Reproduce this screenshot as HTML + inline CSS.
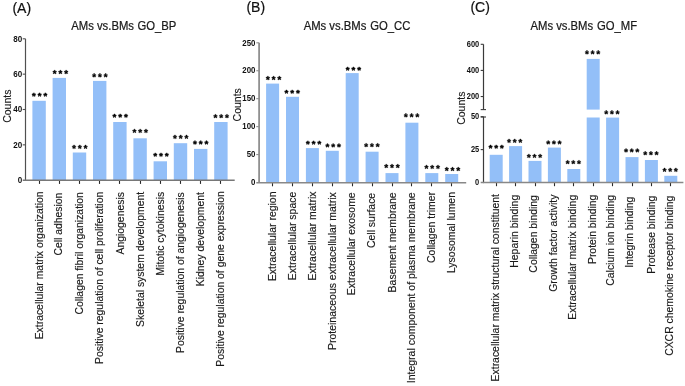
<!DOCTYPE html>
<html><head><meta charset="utf-8"><style>
html,body{margin:0;padding:0;background:#fff;}
body{width:685px;height:386px;overflow:hidden;}
svg{display:block;will-change:transform;}
text{font-family:"Liberation Sans", sans-serif;fill:#1a1a1a;}
.tk{font-size:8.3px;font-weight:bold;fill:#111;}
.sp{fill:#000;stroke:#000;stroke-width:85px;stroke-linejoin:round;}
.lb{font-size:10.4px;fill:#1a1a1a;stroke:#1a1a1a;stroke-width:0.15px;}
.ti{font-size:11.3px;fill:#1a1a1a;stroke:#1a1a1a;stroke-width:0.2px;}
.pl{font-size:14px;fill:#111;stroke:#111;stroke-width:0.2px;}
.ct{font-size:10.5px;fill:#1a1a1a;stroke:#1a1a1a;stroke-width:0.15px;}
</style></head><body>
<svg width="685" height="386" viewBox="0 0 685 386">
<rect width="685" height="386" fill="#fff"/>
<line x1="25.5" y1="180.80" x2="25.5" y2="38.8" stroke="#505050" stroke-width="1.2"/>
<text transform="translate(22.20,182.95) scale(0.97,1)" text-anchor="end" class="tk">0</text>
<line x1="22.7" y1="144.85" x2="25.5" y2="144.85" stroke="#505050" stroke-width="1.1"/>
<text transform="translate(22.20,147.60) scale(0.97,1)" text-anchor="end" class="tk">20</text>
<line x1="22.7" y1="109.5" x2="25.5" y2="109.5" stroke="#505050" stroke-width="1.1"/>
<text transform="translate(22.20,112.25) scale(0.97,1)" text-anchor="end" class="tk">40</text>
<line x1="22.7" y1="74.15" x2="25.5" y2="74.15" stroke="#505050" stroke-width="1.1"/>
<text transform="translate(22.20,76.90) scale(0.97,1)" text-anchor="end" class="tk">60</text>
<line x1="22.7" y1="38.800" x2="25.5" y2="38.800" stroke="#505050" stroke-width="1.1"/>
<text transform="translate(22.20,41.55) scale(0.97,1)" text-anchor="end" class="tk">80</text>
<rect x="32.4" y="100.8" width="13.4" height="79.500" fill="#93bff8"/>
<path transform="translate(33.85,94.70) scale(0.00474)" d="M92,-107L326,-211L394,-14L144,47L330,260L146,381L0,129L-148,381L-334,258L-144,47L-394,-14L-326,-211L-88,-107L-106,-381L110,-381Z" class="sp"/>
<path transform="translate(39.60,94.70) scale(0.00474)" d="M92,-107L326,-211L394,-14L144,47L330,260L146,381L0,129L-148,381L-334,258L-144,47L-394,-14L-326,-211L-88,-107L-106,-381L110,-381Z" class="sp"/>
<path transform="translate(45.35,94.70) scale(0.00474)" d="M92,-107L326,-211L394,-14L144,47L330,260L146,381L0,129L-148,381L-334,258L-144,47L-394,-14L-326,-211L-88,-107L-106,-381L110,-381Z" class="sp"/>
<line x1="39.5" y1="180.3" x2="39.5" y2="183.9" stroke="#2a2a2a" stroke-width="1.1"/>
<text transform="translate(42.55,191.50) scale(1,1.0) rotate(-90)" text-anchor="end" class="lb" style="font-size:10.400px">Extracellular matrix organization</text>
<rect x="52.600" y="77.9" width="13.4" height="102.4" fill="#93bff8"/>
<path transform="translate(54.65,72.10) scale(0.00474)" d="M92,-107L326,-211L394,-14L144,47L330,260L146,381L0,129L-148,381L-334,258L-144,47L-394,-14L-326,-211L-88,-107L-106,-381L110,-381Z" class="sp"/>
<path transform="translate(60.40,72.10) scale(0.00474)" d="M92,-107L326,-211L394,-14L144,47L330,260L146,381L0,129L-148,381L-334,258L-144,47L-394,-14L-326,-211L-88,-107L-106,-381L110,-381Z" class="sp"/>
<path transform="translate(66.15,72.10) scale(0.00474)" d="M92,-107L326,-211L394,-14L144,47L330,260L146,381L0,129L-148,381L-334,258L-144,47L-394,-14L-326,-211L-88,-107L-106,-381L110,-381Z" class="sp"/>
<line x1="59.5" y1="180.3" x2="59.5" y2="183.9" stroke="#2a2a2a" stroke-width="1.1"/>
<text transform="translate(62.40,192.60) scale(1,1.0) rotate(-90)" text-anchor="end" class="lb" style="font-size:10.400px">Cell adhesion</text>
<rect x="72.8" y="152.5" width="13.4" height="27.800" fill="#93bff8"/>
<path transform="translate(74.05,146.90) scale(0.00474)" d="M92,-107L326,-211L394,-14L144,47L330,260L146,381L0,129L-148,381L-334,258L-144,47L-394,-14L-326,-211L-88,-107L-106,-381L110,-381Z" class="sp"/>
<path transform="translate(79.80,146.90) scale(0.00474)" d="M92,-107L326,-211L394,-14L144,47L330,260L146,381L0,129L-148,381L-334,258L-144,47L-394,-14L-326,-211L-88,-107L-106,-381L110,-381Z" class="sp"/>
<path transform="translate(85.55,146.90) scale(0.00474)" d="M92,-107L326,-211L394,-14L144,47L330,260L146,381L0,129L-148,381L-334,258L-144,47L-394,-14L-326,-211L-88,-107L-106,-381L110,-381Z" class="sp"/>
<line x1="79.5" y1="180.3" x2="79.5" y2="183.9" stroke="#2a2a2a" stroke-width="1.1"/>
<text transform="translate(82.90,192.10) scale(1,1.0) rotate(-90)" text-anchor="end" class="lb" style="font-size:10.400px">Collagen fibril organization</text>
<rect x="93.0" y="80.9" width="13.4" height="99.4" fill="#93bff8"/>
<path transform="translate(94.15,75.40) scale(0.00474)" d="M92,-107L326,-211L394,-14L144,47L330,260L146,381L0,129L-148,381L-334,258L-144,47L-394,-14L-326,-211L-88,-107L-106,-381L110,-381Z" class="sp"/>
<path transform="translate(99.90,75.40) scale(0.00474)" d="M92,-107L326,-211L394,-14L144,47L330,260L146,381L0,129L-148,381L-334,258L-144,47L-394,-14L-326,-211L-88,-107L-106,-381L110,-381Z" class="sp"/>
<path transform="translate(105.65,75.40) scale(0.00474)" d="M92,-107L326,-211L394,-14L144,47L330,260L146,381L0,129L-148,381L-334,258L-144,47L-394,-14L-326,-211L-88,-107L-106,-381L110,-381Z" class="sp"/>
<line x1="99.5" y1="180.3" x2="99.5" y2="183.9" stroke="#2a2a2a" stroke-width="1.1"/>
<text transform="translate(103.25,191.80) scale(1,1.0) rotate(-90)" text-anchor="end" class="lb" style="font-size:10.400px">Positive regulation of cell proliferation</text>
<rect x="113.200" y="122" width="13.4" height="58.300" fill="#93bff8"/>
<path transform="translate(114.45,115.80) scale(0.00474)" d="M92,-107L326,-211L394,-14L144,47L330,260L146,381L0,129L-148,381L-334,258L-144,47L-394,-14L-326,-211L-88,-107L-106,-381L110,-381Z" class="sp"/>
<path transform="translate(120.20,115.80) scale(0.00474)" d="M92,-107L326,-211L394,-14L144,47L330,260L146,381L0,129L-148,381L-334,258L-144,47L-394,-14L-326,-211L-88,-107L-106,-381L110,-381Z" class="sp"/>
<path transform="translate(125.95,115.80) scale(0.00474)" d="M92,-107L326,-211L394,-14L144,47L330,260L146,381L0,129L-148,381L-334,258L-144,47L-394,-14L-326,-211L-88,-107L-106,-381L110,-381Z" class="sp"/>
<line x1="119.5" y1="180.3" x2="119.5" y2="183.9" stroke="#2a2a2a" stroke-width="1.1"/>
<text transform="translate(124.10,192.10) scale(1,1.0) rotate(-90)" text-anchor="end" class="lb" style="font-size:10.400px">Angiogenesis</text>
<rect x="133.4" y="138.3" width="13.4" height="42.0" fill="#93bff8"/>
<path transform="translate(134.45,131.00) scale(0.00474)" d="M92,-107L326,-211L394,-14L144,47L330,260L146,381L0,129L-148,381L-334,258L-144,47L-394,-14L-326,-211L-88,-107L-106,-381L110,-381Z" class="sp"/>
<path transform="translate(140.20,131.00) scale(0.00474)" d="M92,-107L326,-211L394,-14L144,47L330,260L146,381L0,129L-148,381L-334,258L-144,47L-394,-14L-326,-211L-88,-107L-106,-381L110,-381Z" class="sp"/>
<path transform="translate(145.95,131.00) scale(0.00474)" d="M92,-107L326,-211L394,-14L144,47L330,260L146,381L0,129L-148,381L-334,258L-144,47L-394,-14L-326,-211L-88,-107L-106,-381L110,-381Z" class="sp"/>
<line x1="140.5" y1="180.3" x2="140.5" y2="183.9" stroke="#2a2a2a" stroke-width="1.1"/>
<text transform="translate(143.70,191.80) scale(1,1.0) rotate(-90)" text-anchor="end" class="lb" style="font-size:10.400px">Skeletal system development</text>
<rect x="153.6" y="161.3" width="13.4" height="19.0" fill="#93bff8"/>
<path transform="translate(155.25,154.80) scale(0.00474)" d="M92,-107L326,-211L394,-14L144,47L330,260L146,381L0,129L-148,381L-334,258L-144,47L-394,-14L-326,-211L-88,-107L-106,-381L110,-381Z" class="sp"/>
<path transform="translate(161.00,154.80) scale(0.00474)" d="M92,-107L326,-211L394,-14L144,47L330,260L146,381L0,129L-148,381L-334,258L-144,47L-394,-14L-326,-211L-88,-107L-106,-381L110,-381Z" class="sp"/>
<path transform="translate(166.75,154.80) scale(0.00474)" d="M92,-107L326,-211L394,-14L144,47L330,260L146,381L0,129L-148,381L-334,258L-144,47L-394,-14L-326,-211L-88,-107L-106,-381L110,-381Z" class="sp"/>
<line x1="160.5" y1="180.3" x2="160.5" y2="183.9" stroke="#2a2a2a" stroke-width="1.1"/>
<text transform="translate(163.90,191.80) scale(1,1.0) rotate(-90)" text-anchor="end" class="lb" style="font-size:10.400px">Mitotic cytokinesis</text>
<rect x="173.8" y="143.2" width="13.4" height="37.100" fill="#93bff8"/>
<path transform="translate(174.95,136.90) scale(0.00474)" d="M92,-107L326,-211L394,-14L144,47L330,260L146,381L0,129L-148,381L-334,258L-144,47L-394,-14L-326,-211L-88,-107L-106,-381L110,-381Z" class="sp"/>
<path transform="translate(180.70,136.90) scale(0.00474)" d="M92,-107L326,-211L394,-14L144,47L330,260L146,381L0,129L-148,381L-334,258L-144,47L-394,-14L-326,-211L-88,-107L-106,-381L110,-381Z" class="sp"/>
<path transform="translate(186.45,136.90) scale(0.00474)" d="M92,-107L326,-211L394,-14L144,47L330,260L146,381L0,129L-148,381L-334,258L-144,47L-394,-14L-326,-211L-88,-107L-106,-381L110,-381Z" class="sp"/>
<line x1="180.5" y1="180.3" x2="180.5" y2="183.9" stroke="#2a2a2a" stroke-width="1.1"/>
<text transform="translate(183.90,192.30) scale(1,1.0) rotate(-90)" text-anchor="end" class="lb" style="font-size:10.400px">Positive regulation of angiogenesis</text>
<rect x="194.0" y="148.9" width="13.4" height="31.400" fill="#93bff8"/>
<path transform="translate(194.95,142.60) scale(0.00474)" d="M92,-107L326,-211L394,-14L144,47L330,260L146,381L0,129L-148,381L-334,258L-144,47L-394,-14L-326,-211L-88,-107L-106,-381L110,-381Z" class="sp"/>
<path transform="translate(200.70,142.60) scale(0.00474)" d="M92,-107L326,-211L394,-14L144,47L330,260L146,381L0,129L-148,381L-334,258L-144,47L-394,-14L-326,-211L-88,-107L-106,-381L110,-381Z" class="sp"/>
<path transform="translate(206.45,142.60) scale(0.00474)" d="M92,-107L326,-211L394,-14L144,47L330,260L146,381L0,129L-148,381L-334,258L-144,47L-394,-14L-326,-211L-88,-107L-106,-381L110,-381Z" class="sp"/>
<line x1="200.5" y1="180.3" x2="200.5" y2="183.9" stroke="#2a2a2a" stroke-width="1.1"/>
<text transform="translate(203.50,192.10) scale(1,1.0) rotate(-90)" text-anchor="end" class="lb" style="font-size:10.400px">Kidney development</text>
<rect x="214.2" y="122" width="13.4" height="58.300" fill="#93bff8"/>
<path transform="translate(215.45,116.20) scale(0.00474)" d="M92,-107L326,-211L394,-14L144,47L330,260L146,381L0,129L-148,381L-334,258L-144,47L-394,-14L-326,-211L-88,-107L-106,-381L110,-381Z" class="sp"/>
<path transform="translate(221.20,116.20) scale(0.00474)" d="M92,-107L326,-211L394,-14L144,47L330,260L146,381L0,129L-148,381L-334,258L-144,47L-394,-14L-326,-211L-88,-107L-106,-381L110,-381Z" class="sp"/>
<path transform="translate(226.95,116.20) scale(0.00474)" d="M92,-107L326,-211L394,-14L144,47L330,260L146,381L0,129L-148,381L-334,258L-144,47L-394,-14L-326,-211L-88,-107L-106,-381L110,-381Z" class="sp"/>
<line x1="220.5" y1="180.3" x2="220.5" y2="183.9" stroke="#2a2a2a" stroke-width="1.1"/>
<text transform="translate(224.10,191.10) scale(1,1.0) rotate(-90)" text-anchor="end" class="lb" style="font-size:10.400px">Positive regulation of gene expression</text>
<line x1="22.7" y1="180.3" x2="234.7" y2="180.3" stroke="#777" stroke-width="1.4"/>
<text transform="translate(71.25,29.9) scale(1,1.08)" class="ti">AMs vs.BMs</text>
<text transform="translate(137.4,29.9) scale(1,1.08)" class="ti">GO_BP</text>
<text x="12.45" y="12.7" class="pl">(A)</text>
<text transform="translate(11.4,106.2) rotate(-90)" text-anchor="middle" class="ct">Counts</text>
<line x1="259.1" y1="183.10" x2="259.1" y2="42.8" stroke="#909090" stroke-width="1.8"/>
<text transform="translate(255.50,185.25) scale(0.95,1)" text-anchor="end" class="tk">0</text>
<line x1="256.3" y1="154.56" x2="259.1" y2="154.56" stroke="#909090" stroke-width="1.1"/>
<text transform="translate(255.50,157.31) scale(0.95,1)" text-anchor="end" class="tk">50</text>
<line x1="256.3" y1="126.62" x2="259.1" y2="126.62" stroke="#909090" stroke-width="1.1"/>
<text transform="translate(255.50,129.37) scale(0.95,1)" text-anchor="end" class="tk">100</text>
<line x1="256.3" y1="98.68" x2="259.1" y2="98.68" stroke="#909090" stroke-width="1.1"/>
<text transform="translate(255.50,101.43) scale(0.95,1)" text-anchor="end" class="tk">150</text>
<line x1="256.3" y1="70.740" x2="259.1" y2="70.740" stroke="#909090" stroke-width="1.1"/>
<text transform="translate(255.50,73.49) scale(0.95,1)" text-anchor="end" class="tk">200</text>
<line x1="256.3" y1="42.800" x2="259.1" y2="42.800" stroke="#909090" stroke-width="1.1"/>
<text transform="translate(255.50,45.55) scale(0.95,1)" text-anchor="end" class="tk">250</text>
<rect x="266.1" y="83.6" width="13" height="99.1" fill="#93bff8"/>
<path transform="translate(267.85,78.10) scale(0.00474)" d="M92,-107L326,-211L394,-14L144,47L330,260L146,381L0,129L-148,381L-334,258L-144,47L-394,-14L-326,-211L-88,-107L-106,-381L110,-381Z" class="sp"/>
<path transform="translate(273.60,78.10) scale(0.00474)" d="M92,-107L326,-211L394,-14L144,47L330,260L146,381L0,129L-148,381L-334,258L-144,47L-394,-14L-326,-211L-88,-107L-106,-381L110,-381Z" class="sp"/>
<path transform="translate(279.35,78.10) scale(0.00474)" d="M92,-107L326,-211L394,-14L144,47L330,260L146,381L0,129L-148,381L-334,258L-144,47L-394,-14L-326,-211L-88,-107L-106,-381L110,-381Z" class="sp"/>
<line x1="272.5" y1="182.7" x2="272.5" y2="186.300" stroke="#2a2a2a" stroke-width="1.1"/>
<text transform="translate(275.80,191.50) scale(1,1.0) rotate(-90)" text-anchor="end" class="lb" style="font-size:10.480px">Extracellular region</text>
<rect x="286.0" y="96.8" width="13" height="85.900" fill="#93bff8"/>
<path transform="translate(286.45,91.80) scale(0.00474)" d="M92,-107L326,-211L394,-14L144,47L330,260L146,381L0,129L-148,381L-334,258L-144,47L-394,-14L-326,-211L-88,-107L-106,-381L110,-381Z" class="sp"/>
<path transform="translate(292.20,91.80) scale(0.00474)" d="M92,-107L326,-211L394,-14L144,47L330,260L146,381L0,129L-148,381L-334,258L-144,47L-394,-14L-326,-211L-88,-107L-106,-381L110,-381Z" class="sp"/>
<path transform="translate(297.95,91.80) scale(0.00474)" d="M92,-107L326,-211L394,-14L144,47L330,260L146,381L0,129L-148,381L-334,258L-144,47L-394,-14L-326,-211L-88,-107L-106,-381L110,-381Z" class="sp"/>
<line x1="292.5" y1="182.7" x2="292.5" y2="186.300" stroke="#2a2a2a" stroke-width="1.1"/>
<text transform="translate(295.70,191.70) scale(1,1.0) rotate(-90)" text-anchor="end" class="lb" style="font-size:10.480px">Extracellular space</text>
<rect x="305.900" y="148.1" width="13" height="34.600" fill="#93bff8"/>
<path transform="translate(307.85,142.70) scale(0.00474)" d="M92,-107L326,-211L394,-14L144,47L330,260L146,381L0,129L-148,381L-334,258L-144,47L-394,-14L-326,-211L-88,-107L-106,-381L110,-381Z" class="sp"/>
<path transform="translate(313.60,142.70) scale(0.00474)" d="M92,-107L326,-211L394,-14L144,47L330,260L146,381L0,129L-148,381L-334,258L-144,47L-394,-14L-326,-211L-88,-107L-106,-381L110,-381Z" class="sp"/>
<path transform="translate(319.35,142.70) scale(0.00474)" d="M92,-107L326,-211L394,-14L144,47L330,260L146,381L0,129L-148,381L-334,258L-144,47L-394,-14L-326,-211L-88,-107L-106,-381L110,-381Z" class="sp"/>
<line x1="312.5" y1="182.7" x2="312.5" y2="186.300" stroke="#2a2a2a" stroke-width="1.1"/>
<text transform="translate(315.60,191.50) scale(1,1.0) rotate(-90)" text-anchor="end" class="lb" style="font-size:10.480px">Extracellular matrix</text>
<rect x="325.8" y="150.8" width="13" height="31.900" fill="#93bff8"/>
<path transform="translate(327.45,145.50) scale(0.00474)" d="M92,-107L326,-211L394,-14L144,47L330,260L146,381L0,129L-148,381L-334,258L-144,47L-394,-14L-326,-211L-88,-107L-106,-381L110,-381Z" class="sp"/>
<path transform="translate(333.20,145.50) scale(0.00474)" d="M92,-107L326,-211L394,-14L144,47L330,260L146,381L0,129L-148,381L-334,258L-144,47L-394,-14L-326,-211L-88,-107L-106,-381L110,-381Z" class="sp"/>
<path transform="translate(338.95,145.50) scale(0.00474)" d="M92,-107L326,-211L394,-14L144,47L330,260L146,381L0,129L-148,381L-334,258L-144,47L-394,-14L-326,-211L-88,-107L-106,-381L110,-381Z" class="sp"/>
<line x1="332.5" y1="182.7" x2="332.5" y2="186.300" stroke="#2a2a2a" stroke-width="1.1"/>
<text transform="translate(335.50,192.30) scale(1,1.0) rotate(-90)" text-anchor="end" class="lb" style="font-size:10.480px">Proteinaceous extracellular matrix</text>
<rect x="345.700" y="73.1" width="13" height="109.6" fill="#93bff8"/>
<path transform="translate(347.65,68.80) scale(0.00474)" d="M92,-107L326,-211L394,-14L144,47L330,260L146,381L0,129L-148,381L-334,258L-144,47L-394,-14L-326,-211L-88,-107L-106,-381L110,-381Z" class="sp"/>
<path transform="translate(353.40,68.80) scale(0.00474)" d="M92,-107L326,-211L394,-14L144,47L330,260L146,381L0,129L-148,381L-334,258L-144,47L-394,-14L-326,-211L-88,-107L-106,-381L110,-381Z" class="sp"/>
<path transform="translate(359.15,68.80) scale(0.00474)" d="M92,-107L326,-211L394,-14L144,47L330,260L146,381L0,129L-148,381L-334,258L-144,47L-394,-14L-326,-211L-88,-107L-106,-381L110,-381Z" class="sp"/>
<line x1="352.5" y1="182.7" x2="352.5" y2="186.300" stroke="#2a2a2a" stroke-width="1.1"/>
<text transform="translate(355.40,192.30) scale(1,1.0) rotate(-90)" text-anchor="end" class="lb" style="font-size:10.480px">Extracellular exosome</text>
<rect x="365.6" y="151.7" width="13" height="31.0" fill="#93bff8"/>
<path transform="translate(366.15,145.20) scale(0.00474)" d="M92,-107L326,-211L394,-14L144,47L330,260L146,381L0,129L-148,381L-334,258L-144,47L-394,-14L-326,-211L-88,-107L-106,-381L110,-381Z" class="sp"/>
<path transform="translate(371.90,145.20) scale(0.00474)" d="M92,-107L326,-211L394,-14L144,47L330,260L146,381L0,129L-148,381L-334,258L-144,47L-394,-14L-326,-211L-88,-107L-106,-381L110,-381Z" class="sp"/>
<path transform="translate(377.65,145.20) scale(0.00474)" d="M92,-107L326,-211L394,-14L144,47L330,260L146,381L0,129L-148,381L-334,258L-144,47L-394,-14L-326,-211L-88,-107L-106,-381L110,-381Z" class="sp"/>
<line x1="372.5" y1="182.7" x2="372.5" y2="186.300" stroke="#2a2a2a" stroke-width="1.1"/>
<text transform="translate(375.30,192.80) scale(1,1.0) rotate(-90)" text-anchor="end" class="lb" style="font-size:10.480px">Cell surface</text>
<rect x="385.5" y="173.1" width="13" height="9.600" fill="#93bff8"/>
<path transform="translate(386.25,166.10) scale(0.00474)" d="M92,-107L326,-211L394,-14L144,47L330,260L146,381L0,129L-148,381L-334,258L-144,47L-394,-14L-326,-211L-88,-107L-106,-381L110,-381Z" class="sp"/>
<path transform="translate(392.00,166.10) scale(0.00474)" d="M92,-107L326,-211L394,-14L144,47L330,260L146,381L0,129L-148,381L-334,258L-144,47L-394,-14L-326,-211L-88,-107L-106,-381L110,-381Z" class="sp"/>
<path transform="translate(397.75,166.10) scale(0.00474)" d="M92,-107L326,-211L394,-14L144,47L330,260L146,381L0,129L-148,381L-334,258L-144,47L-394,-14L-326,-211L-88,-107L-106,-381L110,-381Z" class="sp"/>
<line x1="392.5" y1="182.7" x2="392.5" y2="186.300" stroke="#2a2a2a" stroke-width="1.1"/>
<text transform="translate(395.65,192.30) scale(1,1.0) rotate(-90)" text-anchor="end" class="lb" style="font-size:10.480px">Basement membrane</text>
<rect x="405.4" y="122.7" width="13" height="60.000" fill="#93bff8"/>
<path transform="translate(405.85,115.40) scale(0.00474)" d="M92,-107L326,-211L394,-14L144,47L330,260L146,381L0,129L-148,381L-334,258L-144,47L-394,-14L-326,-211L-88,-107L-106,-381L110,-381Z" class="sp"/>
<path transform="translate(411.60,115.40) scale(0.00474)" d="M92,-107L326,-211L394,-14L144,47L330,260L146,381L0,129L-148,381L-334,258L-144,47L-394,-14L-326,-211L-88,-107L-106,-381L110,-381Z" class="sp"/>
<path transform="translate(417.35,115.40) scale(0.00474)" d="M92,-107L326,-211L394,-14L144,47L330,260L146,381L0,129L-148,381L-334,258L-144,47L-394,-14L-326,-211L-88,-107L-106,-381L110,-381Z" class="sp"/>
<line x1="411.5" y1="182.7" x2="411.5" y2="186.300" stroke="#2a2a2a" stroke-width="1.1"/>
<text transform="translate(415.10,192.30) scale(1,1.0) rotate(-90)" text-anchor="end" class="lb" style="font-size:10.480px">Integral component of plasma membrane</text>
<rect x="425.3" y="173.1" width="13" height="9.600" fill="#93bff8"/>
<path transform="translate(426.45,167.00) scale(0.00474)" d="M92,-107L326,-211L394,-14L144,47L330,260L146,381L0,129L-148,381L-334,258L-144,47L-394,-14L-326,-211L-88,-107L-106,-381L110,-381Z" class="sp"/>
<path transform="translate(432.20,167.00) scale(0.00474)" d="M92,-107L326,-211L394,-14L144,47L330,260L146,381L0,129L-148,381L-334,258L-144,47L-394,-14L-326,-211L-88,-107L-106,-381L110,-381Z" class="sp"/>
<path transform="translate(437.95,167.00) scale(0.00474)" d="M92,-107L326,-211L394,-14L144,47L330,260L146,381L0,129L-148,381L-334,258L-144,47L-394,-14L-326,-211L-88,-107L-106,-381L110,-381Z" class="sp"/>
<line x1="431.5" y1="182.7" x2="431.5" y2="186.300" stroke="#2a2a2a" stroke-width="1.1"/>
<text transform="translate(435.00,192.00) scale(1,1.0) rotate(-90)" text-anchor="end" class="lb" style="font-size:10.480px">Collagen trimer</text>
<rect x="445.200" y="174" width="13" height="8.700" fill="#93bff8"/>
<path transform="translate(446.75,169.10) scale(0.00474)" d="M92,-107L326,-211L394,-14L144,47L330,260L146,381L0,129L-148,381L-334,258L-144,47L-394,-14L-326,-211L-88,-107L-106,-381L110,-381Z" class="sp"/>
<path transform="translate(452.50,169.10) scale(0.00474)" d="M92,-107L326,-211L394,-14L144,47L330,260L146,381L0,129L-148,381L-334,258L-144,47L-394,-14L-326,-211L-88,-107L-106,-381L110,-381Z" class="sp"/>
<path transform="translate(458.25,169.10) scale(0.00474)" d="M92,-107L326,-211L394,-14L144,47L330,260L146,381L0,129L-148,381L-334,258L-144,47L-394,-14L-326,-211L-88,-107L-106,-381L110,-381Z" class="sp"/>
<line x1="451.5" y1="182.7" x2="451.5" y2="186.300" stroke="#2a2a2a" stroke-width="1.1"/>
<text transform="translate(454.90,192.00) scale(1,1.0) rotate(-90)" text-anchor="end" class="lb" style="font-size:10.480px">Lysosomal lumen</text>
<line x1="256.3" y1="182.7" x2="466.2" y2="182.7" stroke="#888" stroke-width="1.5"/>
<text transform="translate(303.65,30.4) scale(1,1.08)" class="ti">AMs vs.BMs</text>
<text transform="translate(370.2,30.4) scale(1,1.08)" class="ti">GO_CC</text>
<text x="246.4" y="12.1" class="pl">(B)</text>
<text transform="translate(241.3,104.8) rotate(-90)" text-anchor="middle" class="ct">Counts</text>
<line x1="483.5" y1="183.10" x2="483.5" y2="116.7" stroke="#3a3a3a" stroke-width="1.2"/>
<line x1="483.5" y1="109.60" x2="483.5" y2="44.3" stroke="#3a3a3a" stroke-width="1.2"/>
<text transform="translate(479.20,185.25) scale(0.9,1)" text-anchor="end" class="tk">0</text>
<line x1="480.7" y1="149.6" x2="483.5" y2="149.6" stroke="#3a3a3a" stroke-width="1.1"/>
<text transform="translate(479.20,152.35) scale(0.9,1)" text-anchor="end" class="tk">25</text>
<line x1="480.7" y1="116.7" x2="483.5" y2="116.7" stroke="#3a3a3a" stroke-width="1.1"/>
<text transform="translate(479.20,119.45) scale(0.9,1)" text-anchor="end" class="tk">50</text>
<line x1="480.7" y1="96.540" x2="483.5" y2="96.540" stroke="#3a3a3a" stroke-width="1.1"/>
<text transform="translate(479.20,99.29) scale(0.9,1)" text-anchor="end" class="tk">200</text>
<line x1="480.7" y1="70.420" x2="483.5" y2="70.420" stroke="#3a3a3a" stroke-width="1.1"/>
<text transform="translate(479.20,73.17) scale(0.9,1)" text-anchor="end" class="tk">400</text>
<line x1="480.7" y1="44.3" x2="483.5" y2="44.3" stroke="#3a3a3a" stroke-width="1.1"/>
<text transform="translate(479.20,47.05) scale(0.9,1)" text-anchor="end" class="tk">600</text>
<line x1="480.7" y1="109.6" x2="486.0" y2="109.6" stroke="#3a3a3a" stroke-width="1.1"/>
<line x1="480.7" y1="117.0" x2="486.0" y2="117.0" stroke="#3a3a3a" stroke-width="1.1"/>
<rect x="489.7" y="154.8" width="13" height="27.800" fill="#93bff8"/>
<path transform="translate(490.55,146.80) scale(0.00474)" d="M92,-107L326,-211L394,-14L144,47L330,260L146,381L0,129L-148,381L-334,258L-144,47L-394,-14L-326,-211L-88,-107L-106,-381L110,-381Z" class="sp"/>
<path transform="translate(496.20,146.80) scale(0.00474)" d="M92,-107L326,-211L394,-14L144,47L330,260L146,381L0,129L-148,381L-334,258L-144,47L-394,-14L-326,-211L-88,-107L-106,-381L110,-381Z" class="sp"/>
<path transform="translate(501.85,146.80) scale(0.00474)" d="M92,-107L326,-211L394,-14L144,47L330,260L146,381L0,129L-148,381L-334,258L-144,47L-394,-14L-326,-211L-88,-107L-106,-381L110,-381Z" class="sp"/>
<line x1="496.5" y1="182.6" x2="496.5" y2="186.2" stroke="#2a2a2a" stroke-width="1.1"/>
<text transform="translate(499.00,194.00) scale(1,1.0) rotate(-90)" text-anchor="end" class="lb" style="font-size:10.420px">Extracellular matrix structural constituent</text>
<rect x="509.100" y="146.1" width="13" height="36.5" fill="#93bff8"/>
<path transform="translate(509.05,140.90) scale(0.00474)" d="M92,-107L326,-211L394,-14L144,47L330,260L146,381L0,129L-148,381L-334,258L-144,47L-394,-14L-326,-211L-88,-107L-106,-381L110,-381Z" class="sp"/>
<path transform="translate(514.70,140.90) scale(0.00474)" d="M92,-107L326,-211L394,-14L144,47L330,260L146,381L0,129L-148,381L-334,258L-144,47L-394,-14L-326,-211L-88,-107L-106,-381L110,-381Z" class="sp"/>
<path transform="translate(520.35,140.90) scale(0.00474)" d="M92,-107L326,-211L394,-14L144,47L330,260L146,381L0,129L-148,381L-334,258L-144,47L-394,-14L-326,-211L-88,-107L-106,-381L110,-381Z" class="sp"/>
<line x1="515.5" y1="182.6" x2="515.5" y2="186.2" stroke="#2a2a2a" stroke-width="1.1"/>
<text transform="translate(518.30,194.80) scale(1,1.0) rotate(-90)" text-anchor="end" class="lb" style="font-size:10.420px">Heparin binding</text>
<rect x="528.5" y="160.9" width="13" height="21.700" fill="#93bff8"/>
<path transform="translate(528.85,156.00) scale(0.00474)" d="M92,-107L326,-211L394,-14L144,47L330,260L146,381L0,129L-148,381L-334,258L-144,47L-394,-14L-326,-211L-88,-107L-106,-381L110,-381Z" class="sp"/>
<path transform="translate(534.50,156.00) scale(0.00474)" d="M92,-107L326,-211L394,-14L144,47L330,260L146,381L0,129L-148,381L-334,258L-144,47L-394,-14L-326,-211L-88,-107L-106,-381L110,-381Z" class="sp"/>
<path transform="translate(540.15,156.00) scale(0.00474)" d="M92,-107L326,-211L394,-14L144,47L330,260L146,381L0,129L-148,381L-334,258L-144,47L-394,-14L-326,-211L-88,-107L-106,-381L110,-381Z" class="sp"/>
<line x1="535.5" y1="182.6" x2="535.5" y2="186.2" stroke="#2a2a2a" stroke-width="1.1"/>
<text transform="translate(537.20,195.10) scale(1,1.0) rotate(-90)" text-anchor="end" class="lb" style="font-size:10.420px">Collagen binding</text>
<rect x="547.9" y="147.6" width="13" height="35.0" fill="#93bff8"/>
<path transform="translate(548.25,142.50) scale(0.00474)" d="M92,-107L326,-211L394,-14L144,47L330,260L146,381L0,129L-148,381L-334,258L-144,47L-394,-14L-326,-211L-88,-107L-106,-381L110,-381Z" class="sp"/>
<path transform="translate(553.90,142.50) scale(0.00474)" d="M92,-107L326,-211L394,-14L144,47L330,260L146,381L0,129L-148,381L-334,258L-144,47L-394,-14L-326,-211L-88,-107L-106,-381L110,-381Z" class="sp"/>
<path transform="translate(559.55,142.50) scale(0.00474)" d="M92,-107L326,-211L394,-14L144,47L330,260L146,381L0,129L-148,381L-334,258L-144,47L-394,-14L-326,-211L-88,-107L-106,-381L110,-381Z" class="sp"/>
<line x1="554.5" y1="182.6" x2="554.5" y2="186.2" stroke="#2a2a2a" stroke-width="1.1"/>
<text transform="translate(556.80,194.60) scale(1,1.0) rotate(-90)" text-anchor="end" class="lb" style="font-size:10.420px">Growth factor activity</text>
<rect x="567.3" y="169" width="13" height="13.600" fill="#93bff8"/>
<path transform="translate(567.65,162.20) scale(0.00474)" d="M92,-107L326,-211L394,-14L144,47L330,260L146,381L0,129L-148,381L-334,258L-144,47L-394,-14L-326,-211L-88,-107L-106,-381L110,-381Z" class="sp"/>
<path transform="translate(573.30,162.20) scale(0.00474)" d="M92,-107L326,-211L394,-14L144,47L330,260L146,381L0,129L-148,381L-334,258L-144,47L-394,-14L-326,-211L-88,-107L-106,-381L110,-381Z" class="sp"/>
<path transform="translate(578.95,162.20) scale(0.00474)" d="M92,-107L326,-211L394,-14L144,47L330,260L146,381L0,129L-148,381L-334,258L-144,47L-394,-14L-326,-211L-88,-107L-106,-381L110,-381Z" class="sp"/>
<line x1="573.5" y1="182.6" x2="573.5" y2="186.2" stroke="#2a2a2a" stroke-width="1.1"/>
<text transform="translate(576.10,194.80) scale(1,1.0) rotate(-90)" text-anchor="end" class="lb" style="font-size:10.420px">Extracellular matrix binding</text>
<rect x="586.7" y="117.5" width="13" height="65.1" fill="#93bff8"/>
<rect x="586.7" y="58.9" width="13" height="50.700" fill="#93bff8"/>
<path transform="translate(586.95,52.40) scale(0.00474)" d="M92,-107L326,-211L394,-14L144,47L330,260L146,381L0,129L-148,381L-334,258L-144,47L-394,-14L-326,-211L-88,-107L-106,-381L110,-381Z" class="sp"/>
<path transform="translate(592.60,52.40) scale(0.00474)" d="M92,-107L326,-211L394,-14L144,47L330,260L146,381L0,129L-148,381L-334,258L-144,47L-394,-14L-326,-211L-88,-107L-106,-381L110,-381Z" class="sp"/>
<path transform="translate(598.25,52.40) scale(0.00474)" d="M92,-107L326,-211L394,-14L144,47L330,260L146,381L0,129L-148,381L-334,258L-144,47L-394,-14L-326,-211L-88,-107L-106,-381L110,-381Z" class="sp"/>
<line x1="593.5" y1="182.6" x2="593.5" y2="186.2" stroke="#2a2a2a" stroke-width="1.1"/>
<text transform="translate(596.20,194.60) scale(1,1.0) rotate(-90)" text-anchor="end" class="lb" style="font-size:10.420px">Protein binding</text>
<rect x="606.1" y="117.6" width="13" height="65.0" fill="#93bff8"/>
<path transform="translate(606.25,112.40) scale(0.00474)" d="M92,-107L326,-211L394,-14L144,47L330,260L146,381L0,129L-148,381L-334,258L-144,47L-394,-14L-326,-211L-88,-107L-106,-381L110,-381Z" class="sp"/>
<path transform="translate(611.90,112.40) scale(0.00474)" d="M92,-107L326,-211L394,-14L144,47L330,260L146,381L0,129L-148,381L-334,258L-144,47L-394,-14L-326,-211L-88,-107L-106,-381L110,-381Z" class="sp"/>
<path transform="translate(617.55,112.40) scale(0.00474)" d="M92,-107L326,-211L394,-14L144,47L330,260L146,381L0,129L-148,381L-334,258L-144,47L-394,-14L-326,-211L-88,-107L-106,-381L110,-381Z" class="sp"/>
<line x1="612.5" y1="182.6" x2="612.5" y2="186.2" stroke="#2a2a2a" stroke-width="1.1"/>
<text transform="translate(614.00,194.90) scale(1,1.0) rotate(-90)" text-anchor="end" class="lb" style="font-size:10.420px">Calcium ion binding</text>
<rect x="625.5" y="157.1" width="13" height="25.5" fill="#93bff8"/>
<path transform="translate(626.05,150.50) scale(0.00474)" d="M92,-107L326,-211L394,-14L144,47L330,260L146,381L0,129L-148,381L-334,258L-144,47L-394,-14L-326,-211L-88,-107L-106,-381L110,-381Z" class="sp"/>
<path transform="translate(631.70,150.50) scale(0.00474)" d="M92,-107L326,-211L394,-14L144,47L330,260L146,381L0,129L-148,381L-334,258L-144,47L-394,-14L-326,-211L-88,-107L-106,-381L110,-381Z" class="sp"/>
<path transform="translate(637.35,150.50) scale(0.00474)" d="M92,-107L326,-211L394,-14L144,47L330,260L146,381L0,129L-148,381L-334,258L-144,47L-394,-14L-326,-211L-88,-107L-106,-381L110,-381Z" class="sp"/>
<line x1="632.5" y1="182.6" x2="632.5" y2="186.2" stroke="#2a2a2a" stroke-width="1.1"/>
<text transform="translate(632.80,196.60) scale(1,1.0) rotate(-90)" text-anchor="end" class="lb" style="font-size:10.420px">Integrin binding</text>
<rect x="644.9" y="160" width="13" height="22.600" fill="#93bff8"/>
<path transform="translate(645.25,153.30) scale(0.00474)" d="M92,-107L326,-211L394,-14L144,47L330,260L146,381L0,129L-148,381L-334,258L-144,47L-394,-14L-326,-211L-88,-107L-106,-381L110,-381Z" class="sp"/>
<path transform="translate(650.90,153.30) scale(0.00474)" d="M92,-107L326,-211L394,-14L144,47L330,260L146,381L0,129L-148,381L-334,258L-144,47L-394,-14L-326,-211L-88,-107L-106,-381L110,-381Z" class="sp"/>
<path transform="translate(656.55,153.30) scale(0.00474)" d="M92,-107L326,-211L394,-14L144,47L330,260L146,381L0,129L-148,381L-334,258L-144,47L-394,-14L-326,-211L-88,-107L-106,-381L110,-381Z" class="sp"/>
<line x1="651.5" y1="182.6" x2="651.5" y2="186.2" stroke="#2a2a2a" stroke-width="1.1"/>
<text transform="translate(655.10,195.60) scale(1,1.0) rotate(-90)" text-anchor="end" class="lb" style="font-size:10.420px">Protease binding</text>
<rect x="664.3" y="175.8" width="13" height="6.800" fill="#93bff8"/>
<path transform="translate(664.55,169.90) scale(0.00474)" d="M92,-107L326,-211L394,-14L144,47L330,260L146,381L0,129L-148,381L-334,258L-144,47L-394,-14L-326,-211L-88,-107L-106,-381L110,-381Z" class="sp"/>
<path transform="translate(670.20,169.90) scale(0.00474)" d="M92,-107L326,-211L394,-14L144,47L330,260L146,381L0,129L-148,381L-334,258L-144,47L-394,-14L-326,-211L-88,-107L-106,-381L110,-381Z" class="sp"/>
<path transform="translate(675.85,169.90) scale(0.00474)" d="M92,-107L326,-211L394,-14L144,47L330,260L146,381L0,129L-148,381L-334,258L-144,47L-394,-14L-326,-211L-88,-107L-106,-381L110,-381Z" class="sp"/>
<line x1="670.5" y1="182.6" x2="670.5" y2="186.2" stroke="#2a2a2a" stroke-width="1.1"/>
<text transform="translate(672.80,195.60) scale(1,1.0) rotate(-90)" text-anchor="end" class="lb" style="font-size:10.420px">CXCR chemokine receptor binding</text>
<line x1="480.7" y1="182.6" x2="683.4" y2="182.6" stroke="#888" stroke-width="1.5"/>
<text transform="translate(530.45,29.5) scale(1,1.08)" class="ti">AMs vs.BMs</text>
<text transform="translate(596.9,29.5) scale(1,1.08)" class="ti">GO_MF</text>
<text x="470.4" y="11.8" class="pl">(C)</text>
<text transform="translate(464.6,108.2) rotate(-90)" text-anchor="middle" class="ct">Counts</text>
</svg></body></html>
